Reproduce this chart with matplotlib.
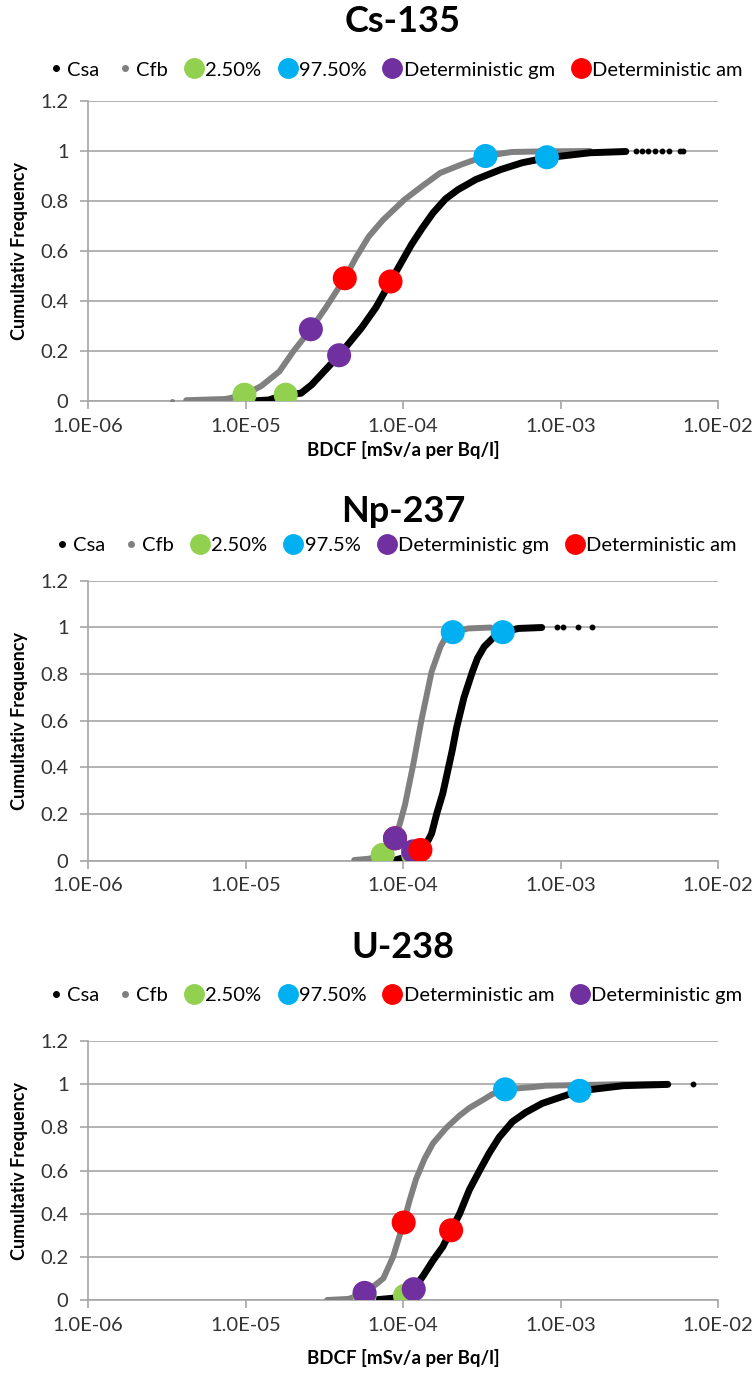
import numpy as np
import matplotlib
matplotlib.use('Agg')
import matplotlib.pyplot as plt
from matplotlib.lines import Line2D
from matplotlib.ticker import FixedLocator, FixedFormatter, NullLocator

plt.rcParams['font.family'] = ['Lato', 'DejaVu Sans']

# ---- data (x = BDCF, y = cumulative frequency) ----
titles = ['Cs-135', 'Np-237', 'U-238']

# Cs-135
cs_csa_x = [1.08e-5, 1.4e-5, 1.8e-5, 2.25e-5, 2.63e-5, 3.15e-5, 3.93e-5, 5.46e-5, 6.73e-5, 8.33e-5, 1.13e-4,
            1.32e-4, 1.55e-4, 1.86e-4, 2.23e-4, 2.9e-4, 4.18e-4, 5.71e-4, 8.2e-4, 1.54e-3, 2.6e-3]
cs_csa_y = [0.0, 0.004, 0.025, 0.031, 0.065, 0.118, 0.183, 0.293, 0.374, 0.478, 0.625,
            0.69, 0.752, 0.808, 0.845, 0.886, 0.926, 0.953, 0.973, 0.993, 0.998]
cs_csa_tail_x = [3.0e-3, 3.3e-3, 3.6e-3, 4.0e-3, 4.4e-3, 4.9e-3, 5.7e-3, 6.0e-3]
cs_csa_tail_y = [1.0, 1.0, 1.0, 1.0, 1.0, 1.0, 1.0, 1.0]
cs_cfb_x = [4.2e-6, 7.5e-6, 9.85e-6, 1.26e-5, 1.64e-5, 2.02e-5, 2.6e-5, 3.24e-5, 4.27e-5, 5.05e-5, 6.05e-5,
            7.46e-5, 1.02e-4, 1.32e-4, 1.72e-4, 2.35e-4, 3.34e-4, 4.9e-4, 7.05e-4, 1.54e-3]
cs_cfb_y = [0.003, 0.008, 0.025, 0.06, 0.118, 0.2, 0.287, 0.374, 0.491, 0.576, 0.657,
            0.724, 0.805, 0.859, 0.912, 0.946, 0.98, 0.996, 0.998, 1.0]
cs_cfb_tail_x = [3.43e-6]
cs_cfb_tail_y = [0.0]
cs_p025 = ([1.8e-5, 9.85e-6], [0.025, 0.025])
cs_p975 = ([8.2e-4, 3.34e-4], [0.975, 0.98])
cs_gm = ([3.93e-5, 2.6e-5], [0.183, 0.287])
cs_am = ([8.33e-5, 4.27e-5], [0.478, 0.491])

# Np-237
np_csa_x = [9.06e-5, 9.75e-5, 1.25e-4, 1.45e-4, 1.52e-4, 1.64e-4, 1.79e-4, 1.95e-4, 2.05e-4, 2.19e-4, 2.44e-4,
            2.76e-4, 2.97e-4, 3.28e-4, 3.71e-4, 4.3e-4, 5.4e-4, 7.6e-4]
np_csa_y = [0.004, 0.01, 0.03, 0.089, 0.117, 0.203, 0.289, 0.403, 0.47, 0.57, 0.7,
            0.81, 0.867, 0.917, 0.953, 0.979, 0.995, 0.999]
np_csa_tail_x = [9.5e-4, 1.04e-3, 1.29e-3, 1.58e-3]
np_csa_tail_y = [1.0, 1.0, 1.0, 1.0]
np_cfb_x = [4.9e-5, 6.0e-5, 7.43e-5, 8.41e-5, 8.9e-5, 9.52e-5, 1.03e-4, 1.16e-4, 1.31e-4, 1.52e-4, 1.73e-4,
            1.9e-4, 2.07e-4, 2.6e-4, 3.6e-4]
np_cfb_y = [0.003, 0.008, 0.02, 0.053, 0.096, 0.155, 0.24, 0.41, 0.603, 0.81, 0.917,
            0.967, 0.979, 0.995, 0.999]
np_cfb_tail_x = []
np_cfb_tail_y = []
np_p025 = ([1.16e-4, 7.43e-5], [0.025, 0.025])
np_p975 = ([4.3e-4, 2.07e-4], [0.979, 0.979])
np_gm = ([1.16e-4, 8.9e-5], [0.04, 0.096])
np_am = ([1.29e-4, 8.9e-5], [0.046, 0.096])

# U-238
u_csa_x = [6.5e-5, 8.6e-5, 1.03e-4, 1.17e-4, 1.34e-4, 1.55e-4, 1.79e-4, 2.02e-4, 2.28e-4, 2.64e-4, 3.05e-4,
           3.52e-4, 4.08e-4, 4.95e-4, 6.01e-4, 7.66e-4, 9.76e-4, 1.32e-3, 2.5e-3, 4.8e-3]
u_csa_y = [0.0, 0.008, 0.02, 0.05, 0.111, 0.183, 0.247, 0.323, 0.397, 0.511, 0.597,
           0.68, 0.754, 0.826, 0.869, 0.911, 0.937, 0.969, 0.993, 0.999]
u_csa_tail_x = [6.9e-3]
u_csa_tail_y = [1.0]
u_cfb_x = [3.3e-5, 4.5e-5, 5.7e-5, 7.5e-5, 8.65e-5, 1.01e-4, 1.1e-4, 1.21e-4, 1.37e-4, 1.55e-4, 1.88e-4,
           2.28e-4, 2.64e-4, 3.2e-4, 3.7e-4, 4.45e-4, 6.6e-4, 8e-4, 2.2e-3, 4.6e-3]
u_cfb_y = [0.0, 0.005, 0.03, 0.1, 0.2, 0.359, 0.46, 0.56, 0.654, 0.726, 0.797,
           0.854, 0.89, 0.926, 0.954, 0.976, 0.986, 0.993, 0.999, 1.0]
u_cfb_tail_x = []
u_cfb_tail_y = []
u_p025 = ([1.03e-4, 5.7e-5], [0.02, 0.02])
u_p975 = ([1.32e-3, 4.45e-4], [0.969, 0.976])
u_gm = ([1.17e-4, 5.7e-5], [0.05, 0.033])
u_am = ([2.02e-4, 1.01e-4], [0.323, 0.359])

legend_labels = [
    ['Csa', 'Cfb', '2.50%', '97.50%', 'Deterministic gm', 'Deterministic am'],
    ['Csa', 'Cfb', '2.50%', '97.5%', 'Deterministic gm', 'Deterministic am'],
    ['Csa', 'Cfb', '2.50%', '97.50%', 'Deterministic am', 'Deterministic gm'],
]
x_ticks = [1e-6, 1e-5, 1e-4, 1e-3, 1e-2]
x_tick_labels = ['1.0E-06', '1.0E-05', '1.0E-04', '1.0E-03', '1.0E-02']
y_ticks = [0, 0.2, 0.4, 0.6, 0.8, 1.0, 1.2]
y_tick_labels = ['0', '0.2', '0.4', '0.6', '0.8', '1', '1.2']

GREEN, BLUE, PURPLE, RED = '#92D050', '#00B0F0', '#7030A0', '#FF0000'
GRAY = '#808080'
GRID = '#A6A6A6'
mark_colors = {'p025': GREEN, 'p975': BLUE, 'gm': PURPLE, 'am': RED}

# (series key, data, point index) in drawing order
panels = [
    dict(csa=(cs_csa_x, cs_csa_y, cs_csa_tail_x, cs_csa_tail_y),
         cfb=(cs_cfb_x, cs_cfb_y, cs_cfb_tail_x, cs_cfb_tail_y),
         marks=[('p025', cs_p025, 0), ('p025', cs_p025, 1), ('p975', cs_p975, 0), ('p975', cs_p975, 1),
                ('gm', cs_gm, 0), ('gm', cs_gm, 1), ('am', cs_am, 0), ('am', cs_am, 1)]),
    dict(csa=(np_csa_x, np_csa_y, np_csa_tail_x, np_csa_tail_y),
         cfb=(np_cfb_x, np_cfb_y, np_cfb_tail_x, np_cfb_tail_y),
         marks=[('p025', np_p025, 0), ('p025', np_p025, 1), ('p975', np_p975, 0), ('p975', np_p975, 1),
                ('am', np_am, 1), ('gm', np_gm, 1), ('gm', np_gm, 0), ('am', np_am, 0)]),
    dict(csa=(u_csa_x, u_csa_y, u_csa_tail_x, u_csa_tail_y),
         cfb=(u_cfb_x, u_cfb_y, u_cfb_tail_x, u_cfb_tail_y),
         marks=[('p025', u_p025, 0), ('p025', u_p025, 1), ('p975', u_p975, 0), ('p975', u_p975, 1),
                ('am', u_am, 0), ('am', u_am, 1), ('gm', u_gm, 0), ('gm', u_gm, 1)]),
]

W, H = 753, 1376
fig = plt.figure(figsize=(W / 100, H / 100), dpi=100)

# axes boxes in pixel coords: (top at 1.2, bottom at 0)
boxes = [(101, 401), (580.6, 860.7), (1041, 1300)]
title_y = [22, 512, 947]
legend_y = [70, 545, 995]
xlabel_y = [450, None, 1358]
left, right = 88, 718

for i, p in enumerate(panels):
    top, bot = boxes[i]
    ax = fig.add_axes([left / W, 1 - bot / H, (right - left) / W, (bot - top) / H])
    ax.set_xscale('log')
    ax.set_xlim(1e-6, 1e-2)
    ax.set_ylim(0, 1.2)

    cx, cy, ctx, cty = p['csa']
    fx, fy, ftx, fty = p['cfb']
    ax.plot(fx, fy, color=GRAY, lw=4.3, solid_capstyle='round', solid_joinstyle='round', zorder=3)
    ax.plot(ftx, fty, 'o', color=GRAY, ms=2.5, zorder=3)
    ax.plot(cx, cy, color='black', lw=5, solid_capstyle='round', solid_joinstyle='round', zorder=4)
    ax.plot(ctx, cty, 'o', color='black', ms=3.2, zorder=4)

    for j, (key, (mx, my), k) in enumerate(p['marks']):
        ax.scatter([mx[k]], [my[k]], s=300, color=mark_colors[key], edgecolors='none', zorder=5 + j)

    ax.yaxis.set_major_locator(FixedLocator(y_ticks))
    ax.yaxis.set_major_formatter(FixedFormatter(y_tick_labels))
    ax.xaxis.set_major_locator(FixedLocator(x_ticks))
    ax.xaxis.set_major_formatter(FixedFormatter(x_tick_labels))
    ax.xaxis.set_minor_locator(NullLocator())
    ax.grid(axis='y', color=GRID, lw=1.2, zorder=0)
    ax.set_axisbelow(True)
    for s in ['top', 'right']:
        ax.spines[s].set_visible(False)
    for s in ['left', 'bottom']:
        ax.spines[s].set_color(GRID)
        ax.spines[s].set_linewidth(1.2)
    ax.tick_params(axis='both', colors=GRID, length=6, width=1.2, labelsize=14.5, labelcolor='#333333')
    ax.tick_params(axis='x', pad=6)
    ax.tick_params(axis='y', pad=8)

    fig.text(403 / W, 1 - title_y[i] / H, titles[i], ha='center', va='center',
             fontsize=26, fontweight='bold')
    fig.text(20 / W, 1 - (top + bot) / 2 / H, 'Cumultativ Frequency', rotation=90,
             ha='center', va='center', fontsize=13, fontweight='bold')
    if xlabel_y[i] is not None:
        fig.text(403 / W, 1 - xlabel_y[i] / H, 'BDCF [mSv/a per Bq/l]', ha='center', va='center',
                 fontsize=13.5, fontweight='bold')

    labs = legend_labels[i]
    handles = [
        Line2D([], [], ls='none', marker='o', ms=4, color='black'),
        Line2D([], [], ls='none', marker='o', ms=4, color=GRAY),
    ]
    for lab in labs[2:]:
        if lab.startswith('2.5'):
            c = GREEN
        elif lab.startswith('97'):
            c = BLUE
        elif lab.endswith('gm'):
            c = PURPLE
        else:
            c = RED
        handles.append(Line2D([], [], ls='none', marker='o', ms=14, color=c))
    fig.legend(handles, labs, loc='center', bbox_to_anchor=(395 / W, 1 - legend_y[i] / H),
               bbox_transform=fig.transFigure, ncol=6, frameon=False, fontsize=14.5,
               handlelength=0.8, handletextpad=0.15, columnspacing=0.9, borderpad=0)

fig.savefig('out.png', dpi=100)
